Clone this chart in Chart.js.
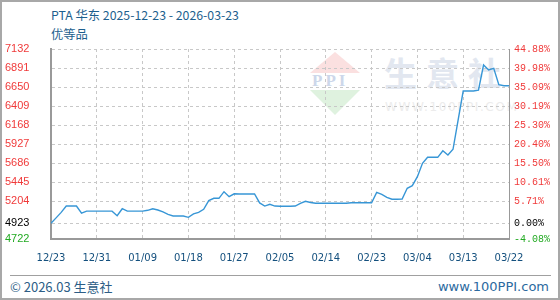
<!DOCTYPE html>
<html>
<head>
<meta charset="utf-8">
<script src="https://cdn.jsdelivr.net/npm/chart.js@4.4.0/dist/chart.umd.min.js"></script>
<style>
  html, body { margin: 0; padding: 0; background: #fff; }
  #wrap { position: relative; width: 560px; height: 300px; overflow: hidden; }
  #chart { position: absolute; left: 0; top: 0; z-index: 2; }
  .txt { position: absolute; white-space: nowrap; font-family: "Noto Sans CJK SC", sans-serif; line-height: 16px; }
  #title { left: 51px; top: 7px; font-size: 12.3px; color: #1d5f8e; }
  #sub { left: 51px; top: 26px; font-size: 12.3px; color: #1d5f8e; }
  #foot-line { position: absolute; left: 10px; top: 275px; width: 541px; height: 1px; background: #a0a0a0; }
  #foot-l { left: 10px; top: 279px; font-size: 13px; color: #2c5d86; }
  #foot-r { right: 11px; top: 279px; font-size: 13px; color: #2c6aa0; font-family: "DejaVu Sans", sans-serif; }
  #frame { position: absolute; left: 0; top: 0; width: 560px; height: 300px; box-sizing: border-box; border: 2px solid #a8a8a8; z-index: 3; pointer-events: none; }
  /* watermark */
  #wm-text { position: absolute; left: 384px; top: 50px; font-size: 33px; letter-spacing: 9px; color: #e2e7f0; font-family: "Noto Sans CJK SC", sans-serif; font-weight: bold; z-index: 1; line-height: 44px; }
  #wm-url { position: absolute; left: 385px; top: 100px; font-size: 12px; letter-spacing: 1.6px; color: #ececec; font-family: "DejaVu Sans", sans-serif; z-index: 1; }
  #wm-up { position: absolute; left: 310px; top: 52px; width: 0; height: 0; border-left: 25px solid transparent; border-right: 25px solid transparent; border-bottom: 21px solid #fbe0e0; z-index: 1; }
  #wm-dn { position: absolute; left: 310px; top: 90px; width: 0; height: 0; border-left: 25px solid transparent; border-right: 25px solid transparent; border-top: 25px solid #dff2df; z-index: 1; }
  #wm-ppi { position: absolute; left: 312px; top: 72px; font-size: 17px; letter-spacing: 3px; color: #cdd7ea; font-family: "Liberation Serif", serif; font-weight: bold; z-index: 1; line-height: 18px; }
</style>
</head>
<body>
<div id="wrap">
  <div id="wm-up"></div>
  <div id="wm-dn"></div>
  <div id="wm-ppi">PPI</div>
  <div id="wm-text">生意社</div>
  <div id="wm-url">WWW.100PPI.COM</div>
  <canvas id="chart" width="560" height="300"></canvas>
  <div class="txt" id="title">PTA 华东 2025-12-23 - 2026-03-23</div>
  <div class="txt" id="sub">优等品</div>
  <div id="foot-line"></div>
  <div class="txt" id="foot-l">© 2026.03 生意社</div>
  <div class="txt" id="foot-r">www.100PPI.com</div>
  <div id="frame"></div>
</div>
<script>
// 日价格 (元/吨), 2025-12-23 ~ 2026-03-23
const prices = [
  4923, 4990, 5060, 5140, 5140, 5140, 5050, 5075, 5075, 5075,
  5075, 5075, 5075, 5018, 5106, 5075, 5075, 5075, 5075, 5086,
  5106, 5090, 5065, 5035, 5014, 5014, 5014, 4997, 5040, 5060,
  5099, 5210, 5238, 5238, 5322, 5259, 5295, 5293, 5293, 5293,
  5293, 5180, 5140, 5162, 5140, 5137, 5137, 5137, 5140, 5175,
  5200, 5185, 5175, 5175, 5175, 5175, 5175, 5175, 5175, 5182,
  5182, 5182, 5182, 5182, 5314, 5289, 5251, 5226, 5226, 5229,
  5365, 5398, 5512, 5682, 5758, 5758, 5758, 5842, 5787, 5860,
  6230, 6599, 6599, 6599, 6610, 6929, 6866, 6887, 6680, 6666,
  6666
];
const xLabels = ['12/23', '12/31', '01/09', '01/18', '01/27', '02/05', '02/14', '02/23', '03/04', '03/13', '03/22'];
const yTicks = [4722, 4923, 5204, 5445, 5686, 5927, 6168, 6409, 6650, 6891, 7132];
const pctLabels = ['-4.08%', '0.00%', '5.71%', '10.61%', '15.50%', '20.40%', '25.30%', '30.19%', '35.09%', '39.98%', '44.88%'];
const baseValue = 4923;

const gridColor = '#c8c8c8';
const axisColor = '#999999';

// 基准价以上红色, 基准价黑色, 以下绿色
const tickColor = (ctx) => {
  const v = ctx.tick.value;
  if (v > baseValue) return '#f03a3a';
  if (v < baseValue) return '#22aa22';
  return '#000000';
};
const setYTicks = (axis) => { axis.ticks = yTicks.map(v => ({ value: v })); };

new Chart(document.getElementById('chart'), {
  type: 'line',
  data: {
    datasets: [{
      data: prices.map((v, i) => ({ x: i, y: v })),
      borderColor: '#3796d6',
      borderWidth: 1.4,
      pointRadius: 0,
      tension: 0,
      fill: false
    }]
  },
  options: {
    responsive: false,
    devicePixelRatio: 1,
    animation: false,
    layout: { padding: { left: 5, right: 0, top: 49, bottom: 31 } },
    plugins: { legend: { display: false }, tooltip: { enabled: false } },
    scales: {
      x: {
        type: 'linear',
        min: 0,
        max: prices.length - 1,
        afterBuildTicks: (axis) => {
          axis.ticks = xLabels.map((_, i) => ({ value: i * (prices.length - 1) / (xLabels.length - 1) }));
        },
        afterFit: (axis) => { axis.height = 30; },
        ticks: {
          callback: (v, i) => xLabels[i],
          color: '#14507e',
          font: { family: 'DejaVu Sans', size: 10 },
          padding: 13,
          maxRotation: 0,
          autoSkip: false
        },
        grid: {
          drawTicks: false,
          color: (c) => (c.index === 0 || c.index === xLabels.length - 1) ? 'rgba(0,0,0,0)' : gridColor
        },
        border: { display: true, color: axisColor, width: 2, dash: [3, 3] }
      },
      y: {
        position: 'left',
        min: yTicks[0],
        max: yTicks[yTicks.length - 1],
        afterBuildTicks: setYTicks,
        afterFit: (axis) => { axis.width = 46; },
        ticks: {
          callback: (v) => String(v),
          color: tickColor,
          font: { family: 'Liberation Sans', size: 11 },
          crossAlign: 'far',
          padding: 0
        },
        grid: {
          drawTicks: false,
          color: (c) => c.index === 0 ? 'rgba(0,0,0,0)' : gridColor
        },
        border: { display: true, color: axisColor, width: 2, dash: [3, 3] }
      },
      y2: {
        position: 'right',
        min: yTicks[0],
        max: yTicks[yTicks.length - 1],
        afterBuildTicks: setYTicks,
        afterFit: (axis) => { axis.width = 51; },
        ticks: {
          callback: (v, i) => pctLabels[i],
          color: tickColor,
          font: { family: 'Liberation Mono', size: 10 },
          padding: 5
        },
        grid: { display: false, drawTicks: false },
        border: { display: true, color: axisColor, width: 1 }
      }
    }
  }
});
</script>
</body>
</html>
